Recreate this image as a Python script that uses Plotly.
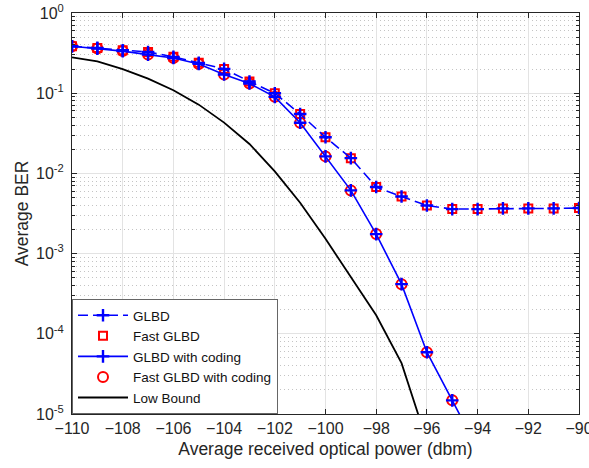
import plotly.graph_objects as go

# ---- data ----
x_glbd = [-110, -109, -108, -107, -106, -105, -104, -103, -102, -101, -100,
          -99, -98, -97, -96, -95, -94, -93, -92, -91, -90]
glbd = [0.385, 0.367, 0.343, 0.327, 0.284, 0.239, 0.201, 0.140, 0.100, 0.055,
        0.0282, 0.0155, 0.00676, 0.00516, 0.00398, 0.00359, 0.00359, 0.00366,
        0.00366, 0.00366, 0.0037]

x_coding = [-110, -109, -108, -107, -106, -105, -104, -103, -102, -101, -100,
            -99, -98, -97, -96, -95, -94]
coding = [0.385, 0.36, 0.335, 0.303, 0.275, 0.232, 0.171, 0.132, 0.090, 0.0428,
          0.0163, 0.00614, 0.00175, 0.000416, 5.9e-5, 1.48e-5, 3.7e-6]

x_bound = [-110, -109, -108, -107, -106, -105, -104, -103, -102, -101, -100,
           -99, -98, -97, -96]
bound = [0.28, 0.25, 0.20, 0.152, 0.109, 0.072, 0.043, 0.0233, 0.0106, 0.0043,
         0.00153, 5.07e-4, 1.7e-4, 4.3e-5, 4.6e-6]

y_tickvals = [1e-5, 1e-4, 1e-3, 1e-2, 1e-1, 1]
y_ticktext = ["10<sup>-5</sup>", "10<sup>-4</sup>", "10<sup>-3</sup>",
              "10<sup>-2</sup>", "10<sup>-1</sup>", "10<sup>0</sup>"]

BLUE = "#0000FF"
RED = "#FF0000"
FONT = "Liberation Sans, Arial, Helvetica, sans-serif"

fig = go.Figure()

fig.add_trace(go.Scatter(
    x=x_glbd, y=glbd, name="Fast GLBD", mode="markers", legendrank=2,
    marker=dict(symbol="square-open", size=8, color=RED, line=dict(width=2, color=RED))))
fig.add_trace(go.Scatter(
    x=x_coding, y=coding, name="Fast GLBD with coding", mode="markers", legendrank=4,
    marker=dict(symbol="circle-open", size=10, color=RED, line=dict(width=2, color=RED))))
fig.add_trace(go.Scatter(
    x=x_glbd, y=glbd, name="GLBD", mode="lines+markers", legendrank=1,
    line=dict(color=BLUE, width=1.6, dash="10px,5px"),
    marker=dict(symbol="cross-thin-open", size=9, color=BLUE, line=dict(width=2.4, color=BLUE))))
fig.add_trace(go.Scatter(
    x=x_coding, y=coding, name="GLBD with coding", mode="lines+markers", legendrank=3,
    line=dict(color=BLUE, width=1.6),
    marker=dict(symbol="cross-thin-open", size=9, color=BLUE, line=dict(width=2.4, color=BLUE))))
fig.add_trace(go.Scatter(
    x=x_bound, y=bound, name="Low Bound", mode="lines", legendrank=5,
    line=dict(color="black", width=1.8)))

fig.update_layout(
    width=589, height=468,
    margin=dict(l=72, r=10, t=13, b=54, autoexpand=False),
    paper_bgcolor="white", plot_bgcolor="white",
    font=dict(family=FONT, size=16, color="#262626"),
    legend=dict(x=0, y=0, xanchor="left", yanchor="bottom",
                bgcolor="white", bordercolor="#666666", borderwidth=1,
                font=dict(size=13.5, color="#111111"), itemwidth=50,
                tracegroupgap=0),
    xaxis=dict(
        range=[-110, -90], dtick=2, tick0=-110, automargin=False,
        title=dict(text="Average received optical power (dbm)", font=dict(size=17.5), standoff=6),
        ticks="inside", ticklen=5, tickcolor="#262626",
        showline=True, linecolor="#262626", linewidth=1, mirror="ticks",
        showgrid=True, gridcolor="#e3e3e3", zeroline=False,
        tickfont=dict(size=16), ticklabeloverflow="allow",
    ),
    yaxis=dict(
        type="log", range=[-5, 0], automargin=False,
        tickvals=y_tickvals, ticktext=y_ticktext,
        title=dict(text="Average BER", font=dict(size=17.5), standoff=2),
        ticks="inside", ticklen=5, tickcolor="#262626",
        showline=True, linecolor="#262626", linewidth=1, mirror="ticks",
        showgrid=True, gridcolor="#e3e3e3", zeroline=False,
        tickfont=dict(size=16), ticklabelstandoff=4, ticklabeloverflow="allow",
        minor=dict(dtick="D1", ticks="inside", ticklen=3, tickcolor="#262626",
                   showgrid=True, gridcolor="#c4c4c4", griddash="1px,3px"),
    ),
)

fig.write_html("out.html")
